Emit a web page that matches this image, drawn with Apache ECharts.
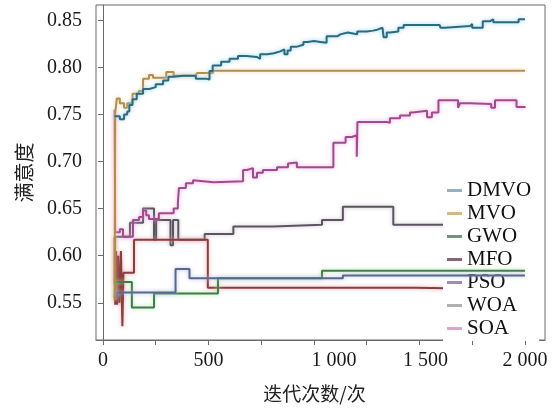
<!DOCTYPE html>
<html>
<head>
<meta charset="utf-8">
<script src="https://cdn.jsdelivr.net/npm/echarts@6/dist/echarts.min.js"></script>
<style>html,body{margin:0;padding:0;background:#fff}#c{width:558px;height:409px}</style>
</head>
<body>
<div id="c"></div>
<script>
// ---- data (iteration, satisfaction) ----
const seriesNames = ['DMVO','MVO','GWO','MFO','PSO','WOA','SOA'];
const xTickLabels = [0, 500, 1000, 1500, 2000];
const xMinorTicks = [0, 250, 500, 750, 1000, 1250, 1500, 1750, 2000];
const yTickLabels = [0.55, 0.60, 0.65, 0.70, 0.75, 0.80, 0.85];

const dmvoX = [55,80,100,115,125,140,160,190,220,250,285,310,335,380,440,490,505,520,560,600,640,680,730,745,780,810,840,860,875,890,920,950,970,1000,1030,1060,1110,1125,1160,1185,1205,1250,1280,1300,1325,1330,1345,1360,1400,1425,1500,1595,1600,1620,1740,1750,1790,1800,1835,1850,1960,1970,2000];
const dmvoY = [0.748,0.745,0.750,0.753,0.760,0.766,0.772,0.777,0.779,0.782,0.786,0.790,0.791,0.791,0.788,0.787,0.796,0.802,0.806,0.809,0.812,0.811,0.809,0.814,0.815,0.817,0.819,0.814,0.818,0.822,0.824,0.827,0.828,0.827,0.826,0.833,0.835,0.837,0.836,0.835,0.838,0.839,0.840,0.842,0.843,0.832,0.837,0.838,0.842,0.845,0.845,0.844,0.842,0.844,0.846,0.842,0.842,0.849,0.851,0.848,0.848,0.851,0.851];

const mvoX = [55,58,66,80,100,115,140,170,190,218,237,285,300,335,440,445,520,525,2000];
const mvoY = [0.553,0.752,0.767,0.762,0.757,0.762,0.772,0.775,0.788,0.792,0.789,0.789,0.795,0.791,0.791,0.794,0.794,0.7965,0.7965];

const gwoX = [55,60,137,242,545,1038,2000];
const gwoY = [0.555,0.572,0.545,0.560,0.576,0.584,0.584];

const mfoX = [55,58,62,67,72,78,85,92,97,147,497,1480,2000];
const mfoY = [0.620,0.548,0.605,0.548,0.600,0.550,0.605,0.525,0.582,0.617,0.566,0.564,0.564];

const psoX = [55,66,344,410,1137,2000];
const psoY = [0.556,0.561,0.586,0.576,0.579,0.579];

const woaX = [55,58,128,190,242,252,320,332,357,482,618,806,1038,1137,1376,2000];
const woaY = [0.570,0.620,0.635,0.650,0.617,0.638,0.611,0.638,0.617,0.623,0.631,0.633,0.638,0.652,0.633,0.633];

const soaX = [55,58,80,95,142,171,190,205,218,265,335,355,360,393,427,430,525,664,682,711,730,758,825,877,886,919,1092,1150,1180,1203,1206,1346,1360,1408,1455,1469,1536,1559,1590,1683,1692,1740,1840,1858,1960,2000];
const soaY = [0.755,0.625,0.628,0.620,0.638,0.641,0.648,0.643,0.639,0.645,0.650,0.656,0.672,0.677,0.680,0.678,0.679,0.691,0.693,0.683,0.688,0.691,0.694,0.698,0.699,0.694,0.720,0.726,0.728,0.705,0.742,0.741,0.746,0.749,0.752,0.754,0.747,0.752,0.765,0.757,0.762,0.761,0.757,0.765,0.758,0.757];

// ---- styling ----
const zip = (xs, ys) => xs.map((x, i) => [x, ys[i]]);
const styles = {
  DMVO: {core:'#2c6a7e', halo:'#8fd0ec', legend:'#8fb2c6', data: zip(dmvoX, dmvoY), z: 8},
  MVO:  {core:'#b48c4e', halo:'#f6d9a2', legend:'#d6b48c', data: zip(mvoX, mvoY), z: 7},
  GWO:  {core:'#3f7c48', halo:'#a8e0a8', legend:'#6c9878', data: zip(gwoX, gwoY), z: 4},
  MFO:  {core:'#8a3c3e', halo:'#e0a0a0', legend:'#8c6470', data: zip(mfoX, mfoY), z: 3},
  PSO:  {core:'#55698c', halo:'#b8b8e8', legend:'#9c8cba', data: zip(psoX, psoY), z: 5},
  WOA:  {core:'#5c5560', halo:'#c8c0c8', legend:'#b0b0b0', data: zip(woaX, woaY), z: 2},
  SOA:  {core:'#a24a8c', halo:'#eaa6dc', legend:'#d8a8cc', data: zip(soaX, soaY), z: 6}
};

const serif = '"Liberation Serif", "Times New Roman", serif';
const cjk = '"Noto Sans CJK SC", sans-serif';

const chart = echarts.init(document.getElementById('c'), null, {renderer: 'canvas'});
chart.setOption({
  animation: false,
  backgroundColor: '#fff',
  grid: {left: 96, right: 13, top: 5, bottom: 69, show: true, borderColor: '#6a6a6a', borderWidth: 1, backgroundColor: 'transparent'},
  xAxis: {
    type: 'value', min: -33, max: 2095,
    name: '迭代次数/次', nameLocation: 'middle', nameGap: 44,
    nameTextStyle: {fontFamily: cjk, fontSize: 19, color: '#222', padding: [0, 12, 0, 0]},
    axisLine: {show: true, lineStyle: {color: '#6a6a6a', width: 1}},
    axisTick: {show: true, inside: false, length: 5, customValues: xMinorTicks, lineStyle: {color: '#6a6a6a'}},
    splitLine: {show: false},
    axisLabel: {
      customValues: xTickLabels, margin: 11, color: '#1a1a1a', fontFamily: serif, fontSize: 20,
      formatter: v => {
        const s = v >= 1000 ? Math.floor(v/1000) + ' ' + String(v % 1000).padStart(3, '0') : String(v);
        if (v === 1000) return '{a|' + s + '}';
        if (v === 1500) return '{b|' + s + '}';
        return s;
      },
      rich: {
        a: {fontFamily: serif, fontSize: 20, color: '#1a1a1a', padding: [0, 0, 0, 40]},
        b: {fontFamily: serif, fontSize: 20, color: '#1a1a1a', padding: [0, 0, 0, 12]}
      }
    }
  },
  yAxis: {
    type: 'value', min: 0.5105, max: 0.8662,
    name: '满意度', nameLocation: 'middle', nameGap: 62,
    nameTextStyle: {fontFamily: cjk, fontSize: 20, color: '#222'},
    axisLine: {show: true, lineStyle: {color: '#6a6a6a', width: 1}},
    axisTick: {show: true, inside: false, length: 5, customValues: yTickLabels, lineStyle: {color: '#6a6a6a'}},
    splitLine: {show: false},
    axisLabel: {customValues: yTickLabels, margin: 14, color: '#1a1a1a', fontFamily: serif, fontSize: 20,
      formatter: v => v.toFixed(2)}
  },
  legend: {
    orient: 'vertical', left: 443, top: 178,
    padding: [2, 8, 2, 4], itemGap: 2, itemWidth: 15, itemHeight: 3,
    icon: 'rect', backgroundColor: '#ffffff',
    textStyle: {fontFamily: serif, fontSize: 21, color: '#111', lineHeight: 20, padding: [0, 0, 0, 0]},
    data: seriesNames.map(n => ({name: n, itemStyle: {color: styles[n].legend}}))
  },
  series: seriesNames.map(n => ({
    name: n, type: 'line', step: 'end', showSymbol: false, symbol: 'none', z: styles[n].z,
    data: styles[n].data,
    itemStyle: {color: styles[n].core},
    lineStyle: {color: styles[n].core, width: 2, shadowColor: styles[n].halo, shadowBlur: 4}
  }))
});
</script>
</body>
</html>
